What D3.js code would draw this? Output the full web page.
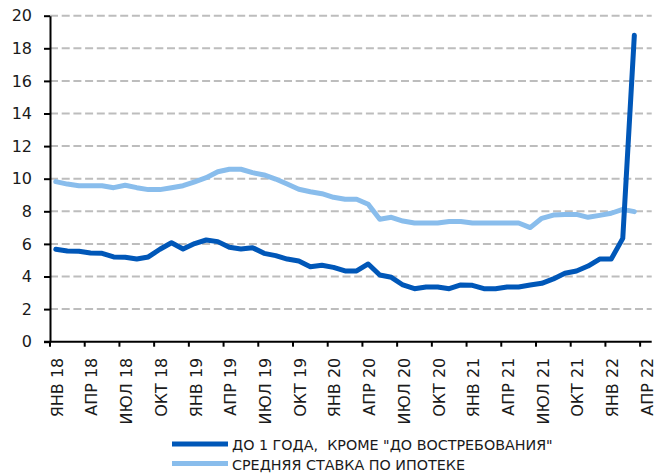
<!DOCTYPE html>
<html>
<head>
<meta charset="utf-8">
<script src="https://cdn.jsdelivr.net/npm/d3@7"></script>
<style>
  body { margin: 0; background: #fff; }
  text { font-family: 'DejaVu Sans', sans-serif; fill: #1a1a1a; }
</style>
</head>
<body>
<svg width="670" height="476"></svg>
<script>
(function () {

const monthNames = ['ЯНВ', 'ФЕВ', 'МАР', 'АПР', 'МАЙ', 'ИЮН', 'ИЮЛ', 'АВГ', 'СЕН', 'ОКТ', 'НОЯ', 'ДЕК'];
const years = ['18', '19', '20', '21', '22'];
const tickLabels = ['ЯНВ 18', 'АПР 18', 'ИЮЛ 18', 'ОКТ 18', 'ЯНВ 19', 'АПР 19', 'ИЮЛ 19', 'ОКТ 19',
  'ЯНВ 20', 'АПР 20', 'ИЮЛ 20', 'ОКТ 20', 'ЯНВ 21', 'АПР 21', 'ИЮЛ 21', 'ОКТ 21', 'ЯНВ 22', 'АПР 22'];
const yTicks = [0, 2, 4, 6, 8, 10, 12, 14, 16, 18, 20];

// deposits up to 1 year, monthly from Jan 18 to Mar 22
const deposits = [5.67, 5.56, 5.55, 5.44, 5.42, 5.2, 5.18, 5.07, 5.2, 5.67, 6.07, 5.69, 6.02,
  6.24, 6.14, 5.79, 5.69, 5.77, 5.42, 5.28, 5.07, 4.95, 4.6, 4.69, 4.56, 4.34,
  4.34, 4.77, 4.09, 3.95, 3.48, 3.25, 3.36, 3.36, 3.25, 3.48, 3.46, 3.25, 3.25,
  3.36, 3.36, 3.48, 3.58, 3.85, 4.2, 4.34, 4.64, 5.07, 5.07, 6.34, 18.8];
// average mortgage rate
const mortgage = [9.82, 9.67, 9.57, 9.57, 9.57, 9.45, 9.6, 9.45, 9.33, 9.33, 9.45, 9.57, 9.81,
  10.06, 10.43, 10.58, 10.58, 10.37, 10.23, 9.98, 9.67, 9.35, 9.2, 9.08, 8.86, 8.74,
  8.74, 8.43, 7.51, 7.63, 7.4, 7.28, 7.28, 7.28, 7.38, 7.38, 7.28, 7.28, 7.28,
  7.28, 7.28, 7.0, 7.57, 7.77, 7.81, 7.81, 7.63, 7.75, 7.88, 8.12, 7.98];

const series = [
  {name: 'ДО 1 ГОДА,  КРОМЕ "ДО ВОСТРЕБОВАНИЯ"', values: deposits, color: '#0057b8'},
  {name: 'СРЕДНЯЯ СТАВКА ПО ИПОТЕКЕ', values: mortgage, color: '#89bdec'}
];

// categories Jan 18 .. Apr 22
const months = [];
years.forEach(function(yr) {
  monthNames.forEach(function(m) { months.push(m + ' ' + yr); });
});
const categories = months.slice(0, 52);

const svg = d3.select('svg'),
    margin = {top: 15.7, left: 50, right: 18.3, bottom: 134.3},
    width = +svg.attr('width') - margin.left - margin.right,
    height = +svg.attr('height') - margin.top - margin.bottom;

const x = d3.scaleBand()
  .domain(categories)
  .range([margin.left, margin.left + width])
  .padding(0);
const bw = x.bandwidth();

const y = d3.scaleLinear()
  .domain([0, 20])
  .range([margin.top + height, margin.top]);

// gridlines
svg.append('g')
  .attr('class', 'grid')
  .selectAll('line')
  .data(yTicks.filter(function(d) { return d > 0; }))
  .enter().append('line')
    .attr('x1', margin.left)
    .attr('x2', margin.left + width)
    .attr('y1', function(d) { return y(d); })
    .attr('y2', function(d) { return y(d); })
    .attr('stroke', '#bdbdbd')
    .attr('stroke-width', 2)
    .attr('stroke-dasharray', '8,3.7');

// y axis
const yAxis = svg.append('g')
  .attr('class', 'axis axis--y')
  .attr('transform', 'translate(' + margin.left + ',0)')
  .call(d3.axisLeft(y).tickValues(yTicks).tickSize(6).tickSizeOuter(0).tickPadding(12));
yAxis.select('.domain').attr('stroke', '#000').attr('stroke-width', 2);
yAxis.selectAll('.tick line').attr('stroke', '#000').attr('stroke-width', 2);
yAxis.selectAll('.tick text')
  .attr('font-size', 16)
  .attr('font-family', "'DejaVu Sans', sans-serif")
  .attr('fill', '#1a1a1a');

// x axis: ticks between categories, labels every 3 months
const labelled = categories.filter(function(d, i) { return i % 3 === 0; });
const xAxis = svg.append('g')
  .attr('class', 'axis axis--x')
  .attr('transform', 'translate(0,' + y(0) + ')')
  .call(d3.axisBottom(x).tickValues(labelled).tickSize(5).tickSizeOuter(0)
    .tickFormat(function(d) { return tickLabels[labelled.indexOf(d)]; }));
xAxis.select('.domain').attr('stroke', '#000').attr('stroke-width', 2)
  .attr('d', 'M' + (margin.left - 6) + ',0H' + (margin.left + width));
xAxis.selectAll('.tick line')
  .attr('stroke', '#000').attr('stroke-width', 2)
  .attr('x1', -bw / 2).attr('x2', -bw / 2);
xAxis.selectAll('.tick text')
  .attr('font-size', 16)
  .attr('font-family', "'DejaVu Sans', sans-serif")
  .attr('fill', '#1a1a1a')
  .attr('transform', 'rotate(-90)')
  .attr('text-anchor', 'end')
  .attr('dominant-baseline', 'central')
  .attr('x', -16)
  .attr('y', 1.5)
  .attr('dy', null);

// lines
const line = d3.line()
  .x(function(d, i) { return x(categories[i]) + bw / 2; })
  .y(function(d) { return y(d); });

svg.selectAll('.series')
  .data(series.slice().reverse())
  .enter().append('path')
    .attr('class', 'series')
    .attr('d', function(d) { return line(d.values); })
    .attr('fill', 'none')
    .attr('stroke', function(d) { return d.color; })
    .attr('stroke-width', 5)
    .attr('stroke-linejoin', 'round')
    .attr('stroke-linecap', 'round');

// legend
const legend = svg.append('g')
  .attr('class', 'legend')
  .attr('transform', 'translate(172,444)');

const legendItem = legend.selectAll('g')
  .data(series)
  .enter().append('g')
    .attr('transform', function(d, i) { return 'translate(0,' + (i * 19.5) + ')'; });

legendItem.append('line')
    .attr('x1', 0)
    .attr('x2', 56)
    .attr('stroke', function(d) { return d.color; })
    .attr('stroke-width', 5);

legendItem.append('text')
    .attr('x', 60)
    .attr('y', 1)
    .attr('dominant-baseline', 'central')
    .attr('font-size', 14.3)
    .style('white-space', 'pre')
    .text(function(d) { return d.name; });

})();
</script>
</body>
</html>
